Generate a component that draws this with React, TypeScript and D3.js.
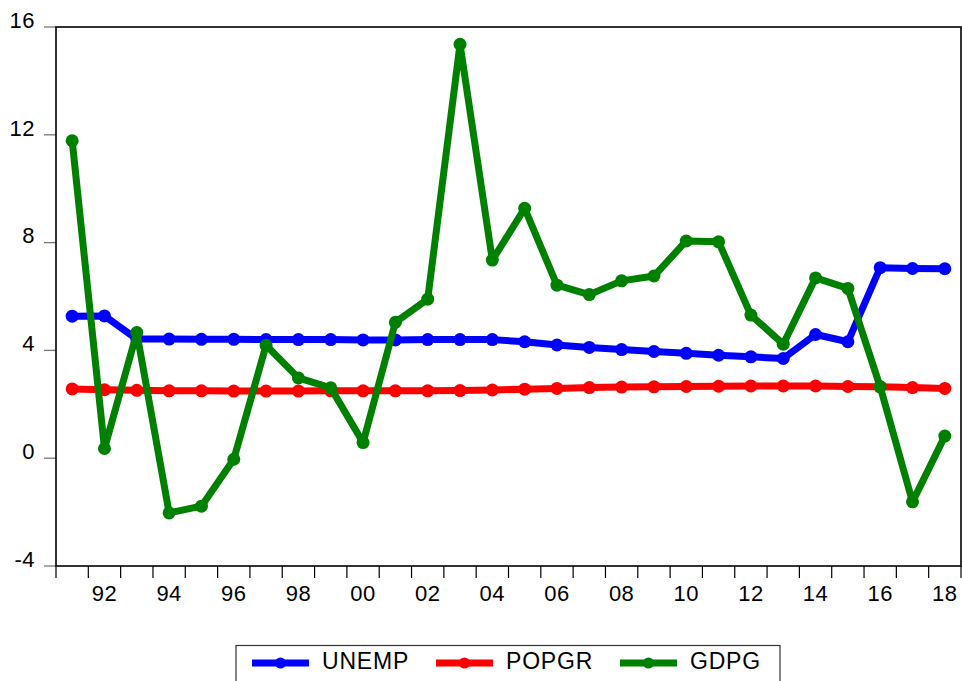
import React from "react";
import * as d3 from "d3";

const years = d3.range(1991, 2019);
const unemp = [5.27, 5.28, 4.42, 4.42, 4.41, 4.41, 4.40, 4.40, 4.40, 4.39, 4.39, 4.40, 4.40, 4.40, 4.32, 4.20, 4.11, 4.03, 3.96, 3.89, 3.82, 3.76, 3.70, 4.59, 4.32, 7.07, 7.04, 7.03];
const popgr = [2.57, 2.54, 2.52, 2.50, 2.50, 2.49, 2.49, 2.49, 2.50, 2.50, 2.50, 2.50, 2.51, 2.53, 2.56, 2.59, 2.62, 2.64, 2.65, 2.66, 2.67, 2.68, 2.68, 2.68, 2.66, 2.65, 2.62, 2.59];
const gdpg = [11.78, 0.36, 4.66, -2.03, -1.78, -0.04, 4.19, 2.98, 2.61, 0.58, 5.04, 5.90, 15.36, 7.35, 9.27, 6.42, 6.07, 6.58, 6.76, 8.06, 8.03, 5.31, 4.23, 6.69, 6.30, 2.65, -1.62, 0.82];
const yTicks = [-4, 0, 4, 8, 12, 16];
const seriesNames = ["UNEMP", "POPGR", "GDPG"];
const seriesColors = ["#0000FF", "#FF0000", "#008000"];

export default function App() {
  const W = 962, H = 681;
  const left = 56, right = 961, top = 27, bottom = 566;
  const x = d3.scaleBand<number>().domain(years).range([left, right]);
  const y = d3.scaleLinear().domain([-4, 16]).range([bottom, top]);
  const cx = (yr: number) => (x(yr) as number) + x.bandwidth() / 2;
  const line = d3.line<number>().x((_, i) => cx(years[i])).y((v) => y(v));
  const data = [unemp, popgr, gdpg];
  const font = "'Liberation Sans', Arial, sans-serif";
  const boundaries = years.map((yr) => x(yr) as number).concat([right]);

  const legendItems = [
    { lx: 252, tx: 322 },
    { lx: 436, tx: 506 },
    { lx: 620, tx: 690 },
  ];

  return (
    <svg width={W} height={H} style={{ position: "absolute", left: 0, top: 0, background: "#fff" }}>
      <rect x={0} y={0} width={W} height={H} fill="#fff" />
      {yTicks.map((t) => (
        <g key={t}>
          <line x1={44} x2={left} y1={y(t)} y2={y(t)} stroke="#777" strokeWidth={1.3} />
          <text x={35} y={y(t) - 5} textAnchor="end" dominantBaseline="middle" fontFamily={font} fontSize={22} letterSpacing={0.5} fill="#000">
            {t}
          </text>
        </g>
      ))}
      {boundaries.map((b, i) => (
        <line key={i} x1={b} x2={b} y1={bottom} y2={578} stroke="#000" strokeWidth={1.2} />
      ))}
      {years.filter((yr) => yr % 2 === 0).map((yr) => (
        <text key={yr} x={cx(yr)} y={595} textAnchor="middle" dominantBaseline="middle" fontFamily={font} fontSize={22} letterSpacing={0.5} fill="#000">
          {String(yr % 100).padStart(2, "0")}
        </text>
      ))}
      <rect x={left} y={top} width={right - left} height={bottom - top} fill="none" stroke="#000" strokeWidth={1.6} />
      {data.map((vals, si) => (
        <g key={si}>
          <path d={line(vals) || ""} fill="none" stroke={seriesColors[si]} strokeWidth={7} strokeLinejoin="round" />
          {vals.map((v, i) => (
            <circle key={i} cx={cx(years[i])} cy={y(v)} r={6.5} fill={seriesColors[si]} />
          ))}
        </g>
      ))}
      <rect x={236} y={645.5} width={544} height={40} fill="#fff" stroke="#333" strokeWidth={1.2} />
      {legendItems.map((it, i) => (
        <g key={i}>
          <line x1={it.lx} x2={it.lx + 57} y1={663} y2={663} stroke={seriesColors[i]} strokeWidth={7} />
          <circle cx={it.lx + 28.5} cy={663} r={5.5} fill={seriesColors[i]} />
          <text x={it.tx} y={663} dominantBaseline="middle" fontFamily={font} fontSize={23} letterSpacing={0.8} fill="#000">
            {seriesNames[i]}
          </text>
        </g>
      ))}
    </svg>
  );
}
